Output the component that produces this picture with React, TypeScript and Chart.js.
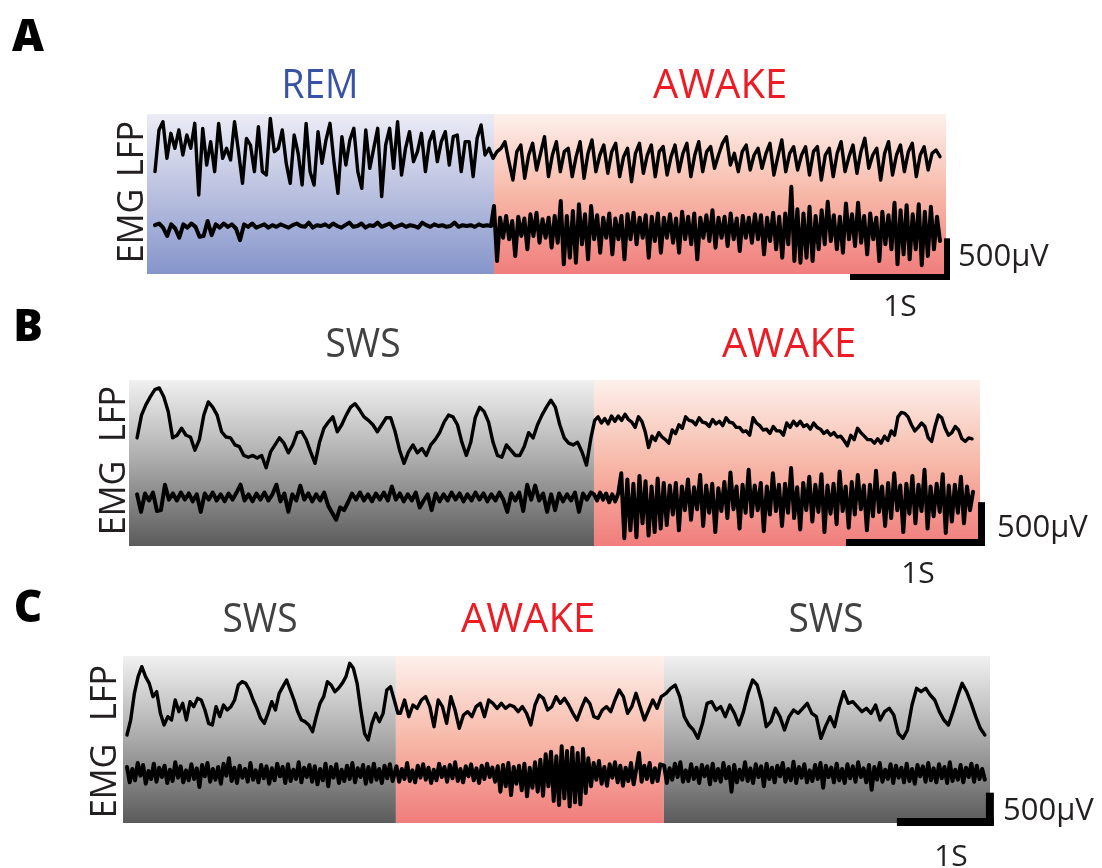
import { useEffect, useRef } from "react";
import { Chart, registerables } from "chart.js";

Chart.register(...registerables);

// ---------------------------------------------------------------------------
// Recorded traces (µV). Each array is evenly sampled over its own time span.
// ---------------------------------------------------------------------------

// Panel A — REM followed by wake
const remLfpA = [
  -200, 300, 400, -40, 260, 80, 300, 0, 240, 80, 380, -480, 320, -120, 160, -200, 380, -40, 80, -60,
  400, 40, -340, 200, 120, -200, 340, -200, -240, 440, 40, 80, 300, -100, -340, 240, 20, -360, 380, -200,
  -360, 280, -100, 180, 380, -80, -460, 220, -120, 180, 320, -200, -400, 300, -160, 80, 320, -500, 120, 320,
  -160, 400, -240, 80, 280, -80, 40, 260, -200, 160, 280, -80, 160, 280, -120, 220, 240, -200, 160, 160,
  -260, 200, 360, 0, 80, -40, 40,
];
const wakeLfpA = [
  80, 160, -80, -300, 40, 120, -280, 0, 140, -180, 20, 220, -260, 0, 160, -200, 40, 80, -260, -20,
  160, -280, 20, 180, -200, 0, 120, -220, 40, 140, -260, -20, 80, -320, 20, 140, -220, 0, 120, -260,
  40, 100, -240, -20, 120, -200, 20, 140, -260, 0, 160, -200, 40, 100, -160, 0, 140, 220, -120, 20,
  -200, 40, 120, -180, 0, 80, -160, 20, 140, -240, -20, 180, -200, 20, 100, -180, 0, 100, -240, 40,
  100, -300, 0, 80, -260, 20, 160, -200, -20, 120, -220, 40, 200, -160, 0, 80, -300, 20, 160, -240,
  0, 120, -200, 40, 140, -260, 0, 100, -180, 20, 60, -20,
];
const remEmgA = [
  10, 30, -20, -120, 20, -30, -140, 20, -20, 30, -10, -130, -120, 60, -110, 20, -20, 30, -10, 20,
  -30, -170, 20, -10, 30, -20, 0, 20, -20, 10, -10, 20, 0, -20, 10, 30, 0, -10, 40, -20,
  10, 0, 20, -10, 30, 0, -20, 10, 40, -10, 0, 30, -20, 10, 0, 40, -10, 10, 30, -20,
  0, 20, -10, 10, 0, -20, 40, 10, -10, 20, 0, 10, -10, 0, 40, -10, 10, 0, 10, -10,
  20, 0, 10, 0,
];
const wakeEmgA = [
  240, -420, 100, -140, 120, -160, 60, -360, 110, -120,
  90, -280, 140, -120, 160, -200, 80, -140, 100, -260, 120,
  -200, 300, -460, 120, -380, 180, -440, 260, -220, 140, -400,
  240, -160, 130, -320, 100, -140, 150, -340, 90, -160, 120,
  -400, 140, -160, 160, -220, 100, -140, 130, -380, 110, -180,
  150, -320, 100, -140, 140, -200, 90, -320, 170, -160, 110,
  -220, 150, -400, 100, -140, 130, -180, 190, -260, 100, -140,
  110, -240, 150, -160, 90, -300, 120, -140, 100, -200, 140,
  -160, 130, -340, 100, -180, 160, -280, 110, -380, 150, -220,
  470, -420, 200, -440, 150, -380, 230, -420, 120, -280, 190,
  -220, 290, -180, 130, -280, 110, -320, 270, -160, 140, -240,
  280, -200, 120, -340, 150, -160, 100, -420, 170, -220, 130,
  -280, 280, -460, 190, -340, 250, -400, 140, -280, 260, -470, 170, -360, 230, -280, 110, -180,
];

// Panel B — slow-wave sleep followed by wake
const swsLfpB = [
  -90, 170, 290, 380, 460, 480, 380, 210, -90, -60, 20, -60, -80, -230, -110, 170, 320, 260, 170, -20,
  -80, -90, -170, -190, -290, -310, -290, -320, -290, -430, -250, -170, -90, -150, -260, -170, -30, -20, -110, -250,
  -380, -140, 20, 90, 150, -20, 60, 170, 260, 300, 230, 150, 110, 60, -20, 60, 140, 140, -20, -230,
  -380, -250, -170, -260, -210, -290, -170, -110, -30, 90, 170, 150, 60, -140, -290, -140, 140, 260, 210, 90,
  -140, -290, -310, -170, -230, -290, -290, -190, -30, -90, 60, 170, 260, 340, 260, 60, -90, -150, -170, -140,
  -250, -400, -90,
];
const wakeLfpB = [
  110, 150, 80, 130, 70, 160, 100, 160, 110, 180, 120, 90, 30, 150, 100, -20, -200, -70, -120, -30,
  -80, -110, -150, 0, -40, 60, 20, 150, 110, 100, 60, 140, 90, 80, 40, 120, 70, 100, 50, 140,
  90, 80, 30, 30, -20, -10, -60, 140, 80, 50, 0, 10, -40, 40, -10, -10, -60, 80, 30, 100,
  50, 100, 40, 60, 10, 80, 30, 10, -40, -10, -60, -30, -80, -70, -120, -180, -60, -110, 20, -30,
  -70, -110, -110, -150, -100, -150, -70, -120, -10, -60, 150, 200, 190, 150, 60, -10, 30, 80, 40, -90,
  -130, 40, 170, 140, 20, -60, -30, 40, 0, -100, -130, -90, -100,
];
const swsEmgB = [
  30, -170, 40, -40, 50, -160, -150, 140, -30, 40, -40, 50, -30, 40, -50, 30, -170, 40, -30, 50,
  -40, 30, -50, 40, -30, 50, 140, -40, 30, -50, 40, -30, 50, -40, 30, 140, -50, 40, -170, 30,
  -40, 130, -30, 40, -50, 30, -40, 50, -100, -180, -260, -120, -150, -60, 40, -30, 50, -40, 30, -50,
  40, -30, 50, -40, 120, -30, 40, -50, 30, -40, 50, -120, -40, 30, -150, 40, -50, 30, -40, 50,
  -30, 40, -50, 30, -40, 50, -30, 40, -50, 30, -40, 50, -30, -170, 40, -40, 50, -160, 140, -30,
  130, -40, 40, -170, 30, -150, 40, -50, 30, -40, 50, -170, 40, -30, 50,
];
const wakeEmgB = [
  30, -40, 50, -30, 40, -60, 30, -50, 40,
  270, -470, 200, -380, 150, -460, 240, -300, 180, -440, 120, -400, 210, -360, 160,
  -320, 130, -200, 160, -380, 120, -150, 200, -260, 110, -140, 250, -330, 130, -180, 150, -400, 100, -160, 170,
  -240, 280, -140, 120, -360, 140, -180, 310, -220, 130, -150, 160, -390, 120, -200, 270, -160, 140, -330, 150,
  -180, 330, -240, 110, -370, 160, -150, 230, -280, 140, -170, 260, -400, 130, -190, 150, -310, 290, -160, 120,
  -350, 170, -200, 250, -140, 130, -380, 140, -220, 300, -170, 120, -330, 160, -240, 270, -150, 130, -400, 150,
  -190, 240, -300, 140, -160, 310, -360, 120, -220, 150, -170, 260, -410, 130, -280, 140, -180, 230, -300, 120,
  -150, 60,
];

// Panel C — slow-wave sleep, wake, slow-wave sleep
const swsLfpC1 = [
  -300, -75, 325, 575, 725, 575, 475, 275, 350, 25, -150, -25, -75, 225, 50, 175, -75, 200, 125, 250,
  225, 75, -125, -150, 125, -25, 150, 75, 125, 225, 450, 500, 475, 375, 225, 100, -50, -125, 25, 200,
  75, 325, 425, 525, 375, 225, 50, -75, -100, -150, -250, -25, 175, 275, 500, 450, 350, 400, 475, 575,
  775, 700, 475, 75, -275, -375, -125, 25, -100, 25, 375, 425, 225, 25,
];
const wakeLfpC = [
  25, 225, -25, 150, 100, 225, 275, 125, -175, 225, 125, -125, 275, 75, -200, 0, 50, -25, 125, 175,
  -25, 225, 175, 100, 175, 100, 150, 125, 50, 125, 25, -150, 150, 300, 250, 75, 125, 275, 175, 250,
  150, 25, -75, 100, 250, 175, -25, -50, 75, 125, 50, 225, 375, 275, 25, 125, 325, 125, -75, 75,
  225, 100, 275,
];
const swsLfpC2 = [
  325, 400, 450, 275, -25, -150, -225, -350, -125, 175, 200, 75, 125, -25, 150, 25, -150, 50, 325, 525,
  450, 200, -175, -100, 100, -25, -225, -25, 75, 25, 100, 175, 25, -25, -350, -175, -25, -175, 125, 350,
  175, 200, 125, 50, 100, 25, 150, -75, 50, 100, 0, -275, -350, -225, 150, 400, 350, 400, 300, 225,
  50, -75, -150, 50, 275, 475, 350, 175, -25, -200, -300,
];
const swsEmgC1 = [
  90, -140, 60, -110, 150, -40, 120, -160, 30, -90, 140, -130, 80, -60, 110, -150, 50, -120, 160, -70,
  100, -140, 40, -110, 130, -90, 70, -210, 120, -50, 150, -130, 60, -100, 90, -160, 140, -40, 220, -120,
  80, -150, 110, -70, 60, -130, 150, -100, 40, -140, 120, -80, 100, -160, 70, -110, 140, -50, 90, -150,
  130, -120, 50, -90, 160, -140, 80, -60, 120, -130, 100, -170, 60, -110, 140, -200, 90, -70, 130, -150,
  50, -120, 110, -90, 150, -140, 70, -60, 120, -160, 90, -130, 140, -100, 60, -150, 110, -80, 130, -120,
];
const wakeEmgC = [
  100, -130, 60, -90, 150, -120, 40, -140, 110, -70, 130, -100, 80, -150, 50, -110, 140, -60, 90, -130,
  120, -80, 160, -120, 60, -140, 100, -50, 130, -110, 70, -150, 110, -90, 140, -60, 80, -130, 100,
  -280, 120, -200, 150, -330, 90, -160, 110, -260, 140, -350, 80, -220, 160,
  -280, 200, -340, 280, -200, 320, -420, 250, -480, 400, -380, 330, -500, 380, -440, 300, -470, 360, -300, 220,
  -200, 150, -100, 180, -160, 90, -190, 130, -70, 160, -140, 110, -190, 80, -120, 150, -170, 60, 300, -130,
  110, -90, 150, -140, 70, -120, 130,
];
const swsEmgC2 = [
  110, -150, 70, -100, 140, -60, 160, -130, 40, -120, 130, -90, 80, -150, 120, -50, 100, -170, 140, -110,
  60, -130, 150, -80, 90, -280, 120, -140, 50, -100, 160, -120, 70, -150, 130, -60, 100, -200, 140, -90,
  80, -140, 110, -50, 150, -130, 60, -110, 170, -150, 90, -70, 130, -140, 40, -120, 120, -90, 150, -220,
  110, -60, 80, -140, 140, -110, 60, -150, 130, -80, 100, -130, 160, -60, 70, -140, 120, -250, 90, -100,
  150, -130, 50, -90, 130, -150, 110, -70, 80, -140, 140, -120, 60, -160, 120, -50, 100, -130, 150, -110,
  70, -140, 130, -80, 90, -150, 160, -120, 50, -100, 120, -140, 80, -60, 140, -130, 110, -90, 60, -100,
];

// Text drawn around the traces
const panelLetters = ["A", "B", "C"];
const stateNames = { rem: "REM", wake: "AWAKE", sws: "SWS" } as const;
const channelNames = ["LFP", "EMG"];
const timeBarLabel = "1S";
const voltBarLabel = "500µV";

// ---------------------------------------------------------------------------
// Layout & styling
// ---------------------------------------------------------------------------
type StateKey = keyof typeof stateNames;
type Segment = { from: number; to: number; values: number[] };

const W = 1102;
const H = 868;
const FONT = "'Open Sans', 'Noto Sans', sans-serif";

const STATE_FILL: Record<StateKey, [string, string, string]> = {
  rem: ["#ececf6", "#b9c0df", "#8595cb"],
  wake: ["#fdf1ec", "#f7b8a8", "#f07d7c"],
  sws: ["#f1f1f1", "#a9a9a9", "#5b5b5b"],
};
const STATE_TEXT: Record<StateKey, string> = {
  rem: "#3953a4",
  wake: "#ed1c24",
  sws: "#414042",
};
const LFP_WIDTH = 3.4;
const EMG_WIDTH = 4;

type Panel = {
  area: { left: number; top: number; right: number; bottom: number };
  xMax: number;
  lfpRange: [number, number];
  emgRange: [number, number];
  bands: { from: number; to: number; state: StateKey }[];
  lfp: Segment[];
  emg: Segment[];
  bar: { time: number; level: number; thickness: number };
};

const panels: Panel[] = [
  {
    area: { left: 147, top: 114, right: 946, bottom: 274 },
    xMax: 7.99,
    lfpRange: [-1428, 492],
    emgRange: [-576, 1344],
    bands: [
      { from: 0, to: 3.47, state: "rem" },
      { from: 3.47, to: 7.99, state: "wake" },
    ],
    lfp: [
      { from: 0.08, to: 3.5, values: remLfpA },
      { from: 3.54, to: 7.93, values: wakeLfpA },
    ],
    emg: [
      { from: 0.08, to: 3.44, values: remEmgA },
      { from: 3.47, to: 7.93, values: wakeEmgA },
    ],
    bar: { time: 8.03, level: -648, thickness: 6 },
  },
  {
    area: { left: 129, top: 380, right: 980, bottom: 546 },
    xMax: 6.122,
    lfpRange: [-1322, 570],
    emgRange: [-559, 1334],
    bands: [
      { from: 0, to: 3.345, state: "sws" },
      { from: 3.345, to: 6.122, state: "wake" },
    ],
    lfp: [
      { from: 0.058, to: 3.323, values: swsLfpB },
      { from: 3.35, to: 6.065, values: wakeLfpB },
    ],
    emg: [
      { from: 0.058, to: 3.323, values: swsEmgB },
      { from: 3.345, to: 6.072, values: wakeEmgB },
    ],
    bar: { time: 6.158, level: -559, thickness: 7 },
  },
  {
    area: { left: 123, top: 656, right: 990, bottom: 823 },
    xMax: 8.94,
    lfpRange: [-1620, 885],
    emgRange: [-750, 1755],
    bands: [
      { from: 0, to: 2.814, state: "sws" },
      { from: 2.814, to: 5.577, state: "wake" },
      { from: 5.577, to: 8.94, state: "sws" },
    ],
    lfp: [
      { from: 0.041, to: 2.835, values: swsLfpC1 },
      { from: 2.86, to: 5.55, values: wakeLfpC },
      { from: 5.6, to: 8.887, values: swsLfpC2 },
    ],
    emg: [
      { from: 0.041, to: 2.78, values: swsEmgC1 },
      { from: 2.82, to: 5.54, values: wakeEmgC },
      { from: 5.58, to: 8.887, values: swsEmgC2 },
    ],
    bar: { time: 8.98, level: -795, thickness: 8 },
  },
];

// Title and label anchors (centre of the text, in page pixels)
const titles: { state: StateKey; x: number; y: number }[] = [
  { state: "rem", x: 320, y: 83 },
  { state: "wake", x: 720, y: 83 },
  { state: "sws", x: 363, y: 342 },
  { state: "wake", x: 789, y: 342 },
  { state: "sws", x: 260, y: 617 },
  { state: "wake", x: 528, y: 617 },
  { state: "sws", x: 826, y: 617 },
];
const letterPos = [
  { x: 28, y: 34 },
  { x: 28, y: 324 },
  { x: 28, y: 605 },
];
const channelPos = [
  [{ x: 130, y: 149 }, { x: 130, y: 226 }],
  [{ x: 112, y: 414 }, { x: 112, y: 498 }],
  [{ x: 103, y: 693 }, { x: 103, y: 781 }],
];
const voltLabelPos = [
  { x: 958, y: 254 },
  { x: 997, y: 525 },
  { x: 1003, y: 808 },
];
const timeLabelPos = [
  { x: 900, y: 305 },
  { x: 918, y: 572 },
  { x: 951, y: 855 },
];

function toPoints(segments: Segment[]) {
  const pts: { x: number; y: number }[] = [];
  for (const s of segments) {
    const n = s.values.length;
    const dt = (s.to - s.from) / (n - 1);
    s.values.forEach((v, i) => pts.push({ x: s.from + i * dt, y: v }));
  }
  return pts;
}

const stateBandsPlugin = {
  id: "stateBands",
  beforeDatasetsDraw(chart: any, _args: any, opts: any) {
    const { ctx, chartArea, scales } = chart;
    ctx.save();
    for (const b of opts.bands as Panel["bands"]) {
      const x0 = scales.x.getPixelForValue(b.from);
      const x1 = scales.x.getPixelForValue(b.to);
      const g = ctx.createLinearGradient(0, chartArea.top, 0, chartArea.bottom);
      const [c0, c1, c2] = STATE_FILL[b.state];
      g.addColorStop(0, c0);
      g.addColorStop(0.5, c1);
      g.addColorStop(1, c2);
      ctx.fillStyle = g;
      ctx.fillRect(x0, chartArea.top, x1 - x0, chartArea.bottom - chartArea.top);
    }
    ctx.restore();
  },
  afterDatasetsDraw(chart: any, _args: any, opts: any) {
    const { ctx, scales } = chart;
    const bar = opts.bar as Panel["bar"];
    const xr = scales.x.getPixelForValue(bar.time);
    const xl = scales.x.getPixelForValue(bar.time - 1);
    const yb = scales.yEmg.getPixelForValue(bar.level);
    const yt = scales.yEmg.getPixelForValue(bar.level + 500);
    ctx.save();
    ctx.fillStyle = "#000";
    ctx.fillRect(xl, yb - bar.thickness, xr - xl, bar.thickness);
    ctx.fillRect(xr - bar.thickness, yt, bar.thickness, yb - yt);
    ctx.restore();
  },
};

function PanelChart({ panel }: { panel: Panel }) {
  const ref = useRef<HTMLCanvasElement>(null);
  useEffect(() => {
    if (!ref.current) return;
    const trace = {
      borderColor: "#000",
      pointRadius: 0,
      tension: 0,
      fill: false,
      borderJoinStyle: "round" as const,
      borderCapStyle: "round" as const,
    };
    const chart = new Chart(ref.current, {
      type: "line",
      data: {
        datasets: [
          { ...trace, borderWidth: LFP_WIDTH, label: channelNames[0], data: toPoints(panel.lfp), yAxisID: "yLfp" },
          { ...trace, borderWidth: EMG_WIDTH, label: channelNames[1], data: toPoints(panel.emg), yAxisID: "yEmg" },
        ],
      },
      options: {
        animation: false,
        responsive: false,
        devicePixelRatio: 1,
        events: [],
        layout: {
          padding: {
            left: panel.area.left,
            top: panel.area.top,
            right: W - panel.area.right,
            bottom: H - panel.area.bottom,
          },
        },
        scales: {
          x: { type: "linear", min: 0, max: panel.xMax, display: false },
          yLfp: { type: "linear", min: panel.lfpRange[0], max: panel.lfpRange[1], display: false },
          yEmg: { type: "linear", min: panel.emgRange[0], max: panel.emgRange[1], display: false },
        },
        plugins: {
          legend: { display: false },
          tooltip: { enabled: false },
          stateBands: { bands: panel.bands, bar: panel.bar },
        } as any,
      },
      plugins: [stateBandsPlugin],
    });
    return () => chart.destroy();
  }, [panel]);
  return (
    <canvas
      ref={ref}
      width={W}
      height={H}
      style={{ position: "absolute", left: 0, top: 0, width: W, height: H }}
    />
  );
}

function Label(props: {
  text: string;
  x: number;
  y: number;
  size: number;
  color?: string;
  weight?: number;
  rotate?: boolean;
  align?: "center" | "left";
  squeeze?: number;
}) {
  const { text, x, y, size, color = "#231f20", weight = 400, rotate, align = "center", squeeze = 1 } = props;
  const tx = align === "center" ? "-50%" : "0";
  return (
    <div
      style={{
        position: "absolute",
        left: x,
        top: y,
        transform: `translate(${tx}, -50%) ${rotate ? "rotate(-90deg)" : ""} scaleX(${squeeze})`,
        transformOrigin: align === "center" ? "50% 50%" : "0 50%",
        fontFamily: FONT,
        fontSize: size,
        fontWeight: weight,
        color,
        lineHeight: 1,
        whiteSpace: "nowrap",
      }}
    >
      {text}
    </div>
  );
}

export default function App() {
  return (
    <div
      style={{
        position: "absolute",
        left: 0,
        top: 0,
        width: W,
        height: H,
        background: "#fff",
        overflow: "hidden",
      }}
    >
      {panels.map((p, i) => (
        <PanelChart key={i} panel={p} />
      ))}
      {panelLetters.map((l, i) => (
        <Label key={l} text={l} x={letterPos[i].x} y={letterPos[i].y} size={44} weight={800} color="#000" />
      ))}
      {titles.map((t, i) => (
        <Label
          key={i}
          text={stateNames[t.state]}
          x={t.x}
          y={t.y}
          size={40}
          color={STATE_TEXT[t.state]}
          squeeze={t.state === "wake" ? 1 : 0.93}
        />
      ))}
      {channelPos.map((pair, i) =>
        pair.map((pos, j) => (
          <Label key={`${i}-${j}`} text={channelNames[j]} x={pos.x} y={pos.y} size={36} rotate squeeze={0.95} />
        ))
      )}
      {voltLabelPos.map((pos, i) => (
        <Label key={`v${i}`} text={voltBarLabel} x={pos.x} y={pos.y} size={31} align="left" />
      ))}
      {timeLabelPos.map((pos, i) => (
        <Label key={`t${i}`} text={timeBarLabel} x={pos.x} y={pos.y} size={30} />
      ))}
    </div>
  );
}
